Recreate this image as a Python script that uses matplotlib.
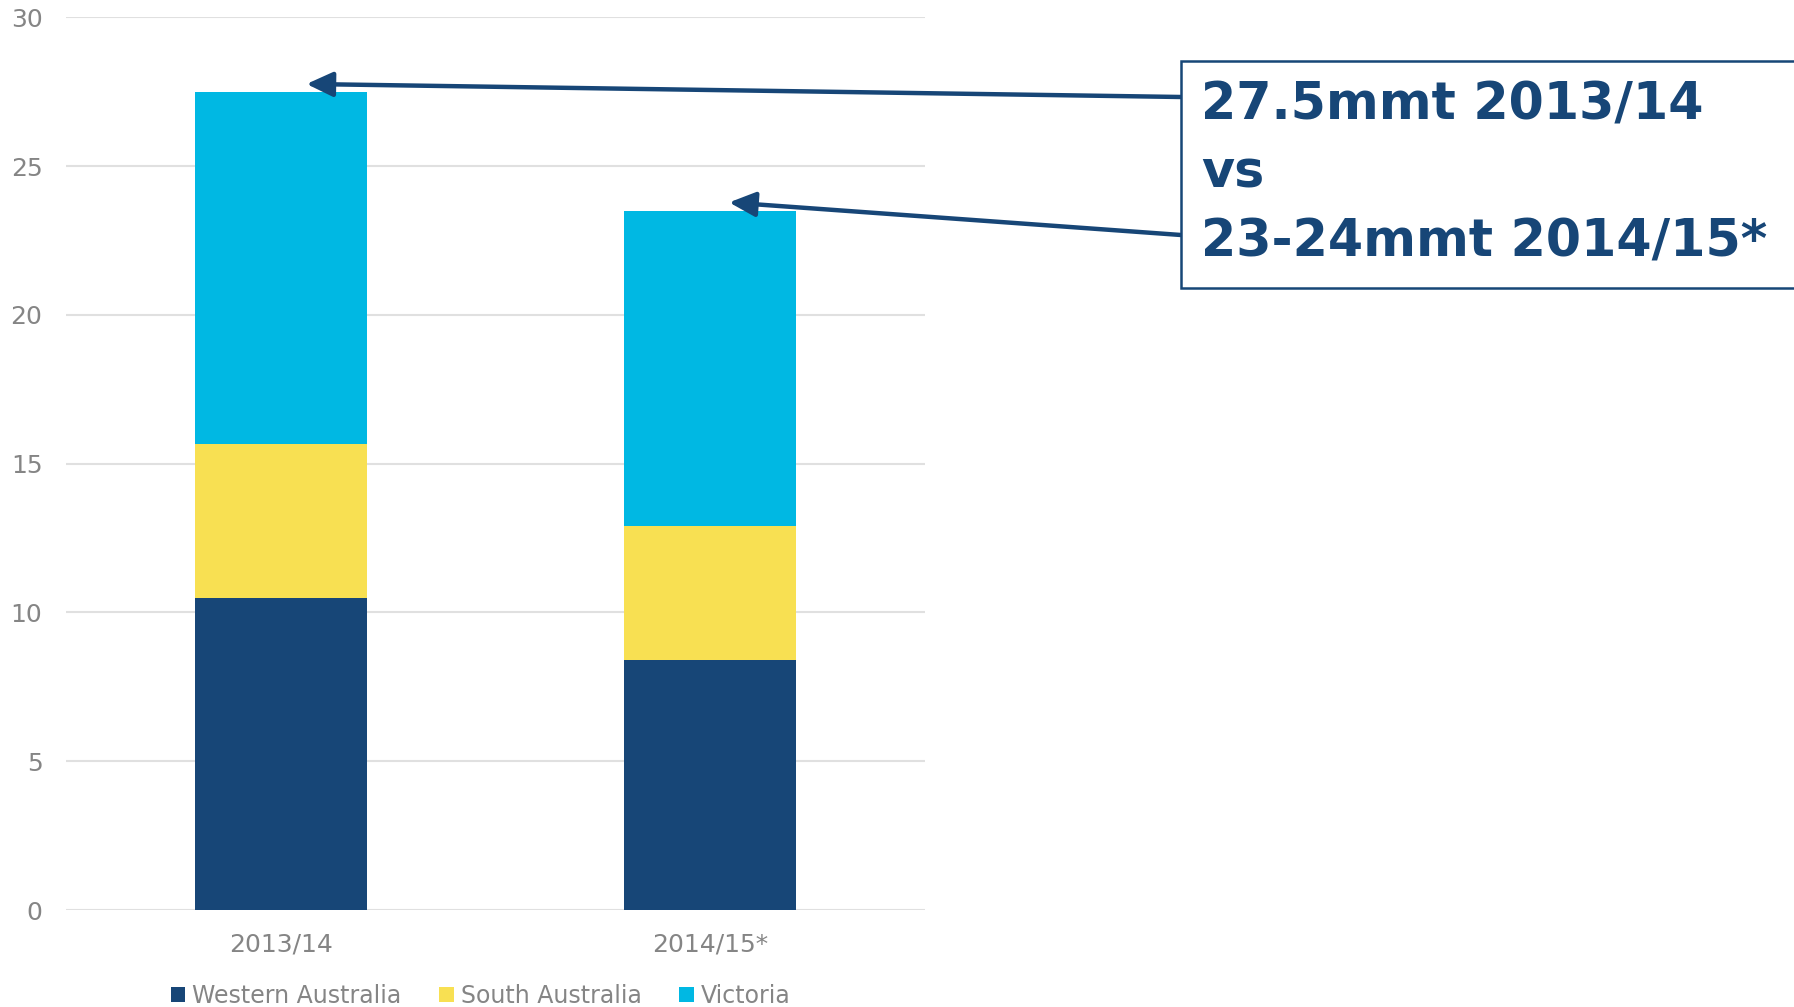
import matplotlib.pyplot as plt
from matplotlib.patches import Patch, Rectangle

# Data (million tonnes)
years = ["2013/14", "2014/15*"]
western_australia = [10.5, 8.4]
south_australia = [5.15, 4.5]
victoria = [11.85, 10.6]

series_names = ["Western Australia", "South Australia", "Victoria"]
colors = ["#174677", "#F8E052", "#00B8E3"]
navy = "#174677"
grey_text = "#858585"

fig = plt.figure(figsize=(17.94, 10.07), dpi=100)
ax = fig.add_axes([0.0368, 0.0963, 0.4788, 0.8865])

x = list(range(len(years)))
bottom = [0.0] * len(years)
for vals, color in zip([western_australia, south_australia, victoria], colors):
    ax.bar(x, vals, width=0.4, bottom=bottom, color=color, zorder=3)
    bottom = [b + v for b, v in zip(bottom, vals)]

ax.set_xlim(-0.5, 1.5)
ax.set_ylim(0, 30)
ax.set_yticks([0, 5, 10, 15, 20, 25, 30])
ax.set_xticks(x)
ax.set_xticklabels(years)
ax.grid(axis="y", color="#e0e0e0", lw=1.5, zorder=0)
for s in ax.spines.values():
    s.set_visible(False)
ax.tick_params(axis="both", length=0, labelsize=18, labelcolor=grey_text)
ax.tick_params(axis="y", pad=17)
ax.tick_params(axis="x", pad=16)

# Legend below the plot
handles = [Patch(facecolor=c, edgecolor="none") for c in colors]
fig.legend(handles, series_names, loc="center", bbox_to_anchor=(0.268, 0.011),
           ncol=3, frameon=False, fontsize=17, labelcolor=grey_text,
           handlelength=0.6, handleheight=0.6, handletextpad=0.3,
           columnspacing=1.6)

# Call-out box on the right
box = Rectangle((0.6583, 0.714), 0.36, 0.2254, transform=fig.transFigure,
                facecolor="white", edgecolor=navy, lw=1.8, clip_on=False)
fig.add_artist(box)
text_kw = dict(color=navy, fontsize=36.5, fontweight="bold", va="baseline", ha="left")
fig.text(0.6695, 0.8815, "27.5mmt 2013/14", **text_kw)
fig.text(0.6695, 0.8138, "vs", **text_kw)
fig.text(0.6695, 0.7448, "23-24mmt 2014/15*", **text_kw)

# Arrows from the box to the bar tops
arrow_kw = dict(arrowstyle="-|>,head_length=1.6,head_width=0.75", color=navy, lw=3.2,
                shrinkA=0, shrinkB=0)
ax.annotate("", xy=(0.06, 27.76), xycoords="data",
            xytext=(0.6583, 1 - 97 / 1007), textcoords="figure fraction",
            arrowprops=arrow_kw, annotation_clip=False)
ax.annotate("", xy=(1.044, 23.78), xycoords="data",
            xytext=(0.6583, 1 - 235 / 1007), textcoords="figure fraction",
            arrowprops=arrow_kw, annotation_clip=False)

fig.savefig("out.png", dpi=100)
